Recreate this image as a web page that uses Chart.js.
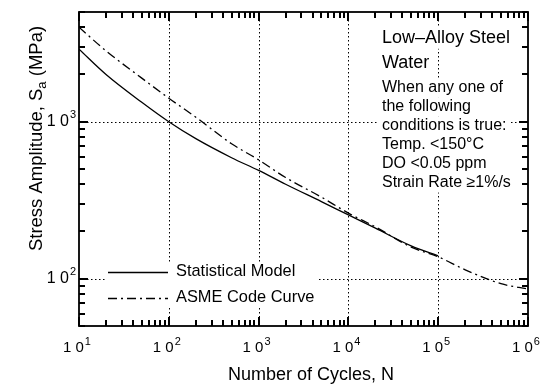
<!DOCTYPE html>
<html>
<head>
<meta charset="utf-8">
<script src="https://cdn.jsdelivr.net/npm/chart.js@4/dist/chart.umd.min.js"></script>
<style>
  html, body { margin: 0; padding: 0; background: #fff; }
  #wrap { width: 553px; height: 385px; position: relative; }
</style>
</head>
<body>
<div id="wrap"><canvas id="c" width="553" height="385" style="width:553px;height:385px"></canvas></div>
<script>
// Fatigue life data, low-alloy steel in water
const statCycles = [10, 20, 50, 100, 200, 500, 1000, 2000, 5000, 1e4, 2e4, 5e4, 1e5];
const statModel  = [2900, 2000, 1330, 1000, 780, 590, 490, 400, 310, 255, 210, 162, 140];
const asmeCycles = [10, 20, 50, 100, 200, 500, 1000, 2000, 5000, 1e4, 2e4, 5e4, 1e5, 2e5, 5e5, 1e6];
const asmeCurve  = [3999, 2827, 1896, 1413, 1069, 724, 572, 441, 331, 262, 214, 159, 138, 114, 93, 86];

const xTickExponents = [1, 2, 3, 4, 5, 6];
const yTickExponents = [2, 3];
const legendLabels = ['Statistical Model', 'ASME Code Curve'];
const noteTitle = ['Low\u2013Alloy Steel', 'Water'];
const noteBody = ['When any one of', 'the following', 'conditions is true:',
                  'Temp. <150\u00B0C', 'DO <0.05 ppm', 'Strain Rate \u22651%/s'];
const xTitle = 'Number of Cycles, N';

const FONT = '"Liberation Sans", Arial, Helvetica, sans-serif';
const DASHDOT = [9, 4, 2, 4];

function toPoints(xs, ys) { return xs.map((x, i) => ({ x: x, y: ys[i] })); }

// Values 1..9 x 10^k that fall inside [lo, hi]
function decadeSteps(lo, hi) {
  const out = [];
  const k0 = Math.floor(Math.log10(lo)), k1 = Math.ceil(Math.log10(hi));
  for (let k = k0; k <= k1; k++) {
    for (let m = 1; m <= 9; m++) {
      const v = m * Math.pow(10, k);
      if (v >= lo * 0.9999 && v <= hi * 1.0001) out.push({ v: v, major: m === 1 });
    }
  }
  return out;
}

// "10" with a raised exponent; align = 'center' | 'right'
function drawPower(ctx, exp, x, y, size, align) {
  const base = size + 'px ' + FONT;
  const sup = Math.round(size * 0.7) + 'px ' + FONT;
  ctx.font = base;
  const wb = ctx.measureText('1 0').width;
  ctx.font = sup;
  const ws = ctx.measureText(String(exp)).width;
  const total = wb + 1 + ws;
  const x0 = align === 'right' ? x - total : x - total / 2;
  ctx.textBaseline = 'middle';
  ctx.textAlign = 'left';
  ctx.font = base;
  ctx.fillText('1 0', x0, y);
  ctx.font = sup;
  ctx.fillText(String(exp), x0 + wb + 1, y - size * 0.42);
}

// dotted decade grid, under the curves
const gridPlugin = {
  id: 'decadeGrid',
  beforeDatasetsDraw(chart) {
    const { ctx, chartArea: a, scales } = chart;
    const xs = scales.x, ys = scales.y;
    ctx.save();
    ctx.strokeStyle = '#000';
    ctx.lineWidth = 1;
    ctx.setLineDash([1.5, 2.5]);
    xTickExponents.forEach(e => {
      const px = Math.round(xs.getPixelForValue(Math.pow(10, e))) + 0.5;
      if (px <= a.left + 1 || px >= a.right - 1) return;
      ctx.beginPath(); ctx.moveTo(px, a.top); ctx.lineTo(px, a.bottom); ctx.stroke();
    });
    yTickExponents.forEach(e => {
      const py = Math.round(ys.getPixelForValue(Math.pow(10, e))) + 0.5;
      ctx.beginPath(); ctx.moveTo(a.left, py); ctx.lineTo(a.right, py); ctx.stroke();
    });
    ctx.restore();
  }
};

// frame with inward ticks on all four sides
const framePlugin = {
  id: 'frameTicks',
  afterDatasetsDraw(chart) {
    const { ctx, chartArea: a, scales } = chart;
    const xs = scales.x, ys = scales.y;
    ctx.save();
    ctx.fillStyle = '#000';
    decadeSteps(10, 1e6).forEach(t => {
      const px = Math.round(xs.getPixelForValue(t.v));
      const len = t.major ? 9 : 6;
      ctx.fillRect(px - 1, a.bottom - len, 2, len);
      ctx.fillRect(px - 1, a.top, 2, len);
    });
    decadeSteps(50, 5000).forEach(t => {
      const py = Math.round(ys.getPixelForValue(t.v));
      const len = t.major ? 9 : 6;
      ctx.fillRect(a.left, py - 1, len, 2);
      ctx.fillRect(a.right - len, py - 1, len, 2);
    });
    ctx.setLineDash([]);
    ctx.strokeStyle = '#000';
    ctx.lineWidth = 1.8;
    ctx.strokeRect(a.left, a.top, a.right - a.left, a.bottom - a.top);
    ctx.restore();
  }
};

// tick labels, axis titles, legend and condition note
const textPlugin = {
  id: 'chartText',
  afterDraw(chart) {
    const { ctx, chartArea: a, scales } = chart;
    const xs = scales.x, ys = scales.y;
    ctx.save();
    ctx.fillStyle = '#000';
    ctx.strokeStyle = '#000';

    xTickExponents.forEach(e => {
      drawPower(ctx, e, xs.getPixelForValue(Math.pow(10, e)) - 2, a.bottom + 22, 15, 'center');
    });
    yTickExponents.forEach(e => {
      drawPower(ctx, e, a.left - 3, ys.getPixelForValue(Math.pow(10, e)), 16, 'right');
    });

    ctx.textBaseline = 'middle';
    ctx.textAlign = 'center';
    ctx.font = '18px ' + FONT;
    ctx.fillText(xTitle, 311, 375);

    ctx.save();
    ctx.translate(37, 138.5);
    ctx.rotate(-Math.PI / 2);
    const big = '18.5px ' + FONT, small = '13px ' + FONT;
    const parts = [['Stress Amplitude, S', big, 0], ['a', small, 5], [' (MPa)', big, 0]];
    let w = 0;
    parts.forEach(p => { ctx.font = p[1]; w += ctx.measureText(p[0]).width; });
    let cx = -w / 2;
    ctx.textAlign = 'left';
    parts.forEach(p => {
      ctx.font = p[1];
      ctx.fillText(p[0], cx, p[2]);
      cx += ctx.measureText(p[0]).width;
    });
    ctx.restore();

    // legend
    ctx.fillStyle = '#fff';
    ctx.fillRect(105, 262, 214, 44);
    ctx.fillStyle = '#000';
    ctx.lineWidth = 1.3;
    const legY = [272.5, 298.5];
    [[], DASHDOT].forEach((d, i) => {
      ctx.setLineDash(d);
      ctx.beginPath(); ctx.moveTo(108, legY[i]); ctx.lineTo(168, legY[i]); ctx.stroke();
    });
    ctx.setLineDash([]);
    ctx.textAlign = 'left';
    ctx.textBaseline = 'middle';
    ctx.font = '16.4px ' + FONT;
    legendLabels.forEach((s, i) => ctx.fillText(s, 176, legY[i] - 1));

    // condition note, each line on its own white box
    const lines = [];
    noteTitle.forEach((s, i) => lines.push({ s: s, size: 18, y: 38 + i * 25 }));
    noteBody.forEach((s, i) => lines.push({ s: s, size: 16, y: 88 + i * 19 }));
    lines.forEach(l => {
      ctx.font = l.size + 'px ' + FONT;
      const tw = ctx.measureText(l.s).width;
      ctx.fillStyle = '#fff';
      ctx.fillRect(379, l.y - l.size * 0.6, tw + 6, l.size * 1.2);
      ctx.fillStyle = '#000';
      ctx.fillText(l.s, 382, l.y);
    });
    ctx.restore();
  }
};

new Chart(document.getElementById('c'), {
  type: 'scatter',
  data: {
    datasets: [
      {
        label: legendLabels[0],
        data: toPoints(statCycles, statModel),
        showLine: true,
        borderColor: '#000',
        borderWidth: 1.3,
        pointRadius: 0,
        cubicInterpolationMode: 'monotone'
      },
      {
        label: legendLabels[1],
        data: toPoints(asmeCycles, asmeCurve),
        showLine: true,
        borderColor: '#000',
        borderWidth: 1.3,
        borderDash: DASHDOT,
        pointRadius: 0,
        cubicInterpolationMode: 'monotone'
      }
    ]
  },
  options: {
    responsive: false,
    animation: false,
    devicePixelRatio: 1,
    layout: { padding: { left: 79, right: 25, top: 12, bottom: 59 } },
    plugins: { legend: { display: false }, tooltip: { enabled: false } },
    scales: {
      x: {
        type: 'logarithmic', min: 10, max: 1e6,
        ticks: { display: false }, grid: { display: false, drawTicks: false },
        border: { display: false },
        afterFit(s) { s.height = 0; }
      },
      y: {
        type: 'logarithmic', min: 50, max: 5000,
        ticks: { display: false }, grid: { display: false, drawTicks: false },
        border: { display: false },
        afterFit(s) { s.width = 0; }
      }
    }
  },
  plugins: [gridPlugin, framePlugin, textPlugin]
});
</script>
</body>
</html>
